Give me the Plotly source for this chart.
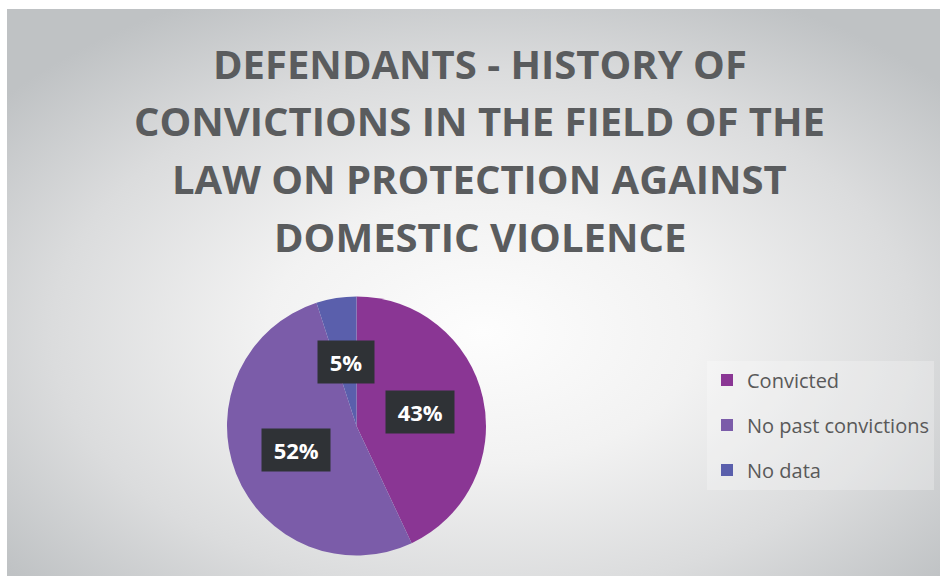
import base64
import math
import plotly.graph_objects as go

# ---- data ----
labels = ["Convicted", "No past convictions", "No data"]
values = [43, 52, 5]
colors = ["#8A3694", "#7B5CA9", "#5A5FAC"]
title_lines = [
    "DEFENDANTS - HISTORY OF",
    "CONVICTIONS IN THE FIELD OF THE",
    "LAW ON PROTECTION AGAINST",
    "DOMESTIC VIOLENCE",
]

# ---- layout constants (pixels) ----
W, H = 940, 576
panel_x0, panel_y0 = 7, 9
pie_cx, pie_cy, pie_r = 356.5, 426.0, 129.5
title_y = [63, 121, 179, 237]
label_frac = 0.5  # labels at half radius (centre of slice)

PW, PH = W - panel_x0, H - panel_y0
# background radial gradient as an SVG image
svg = (
    f'<svg xmlns="http://www.w3.org/2000/svg" width="{PW}" height="{PH}" viewBox="0 0 {PW} {PH}" preserveAspectRatio="none">'
    '<defs><radialGradient id="g" cx="0.51" cy="0.57" r="0.66">'
    '<stop offset="0" stop-color="#FDFDFD"/>'
    '<stop offset="0.35" stop-color="#F2F2F2"/>'
    '<stop offset="0.7" stop-color="#DBDCDD"/>'
    '<stop offset="1" stop-color="#BFC2C4"/>'
    '</radialGradient></defs>'
    f'<rect width="{PW}" height="{PH}" fill="url(#g)"/></svg>'
)
svg_uri = "data:image/svg+xml;base64," + base64.b64encode(svg.encode()).decode()

fig = go.Figure()
fig.add_trace(go.Pie(
    labels=labels,
    values=values,
    marker=dict(colors=colors, line=dict(width=0)),
    sort=False,
    direction="clockwise",
    rotation=0,
    textinfo="none",
    showlegend=False,
    domain=dict(
        x=[(pie_cx - pie_r) / W, (pie_cx + pie_r) / W],
        y=[1 - (pie_cy + pie_r) / H, 1 - (pie_cy - pie_r) / H],
    ),
))

# legend via dummy traces (to control spacing)
for lab, col in zip(labels, colors):
    fig.add_trace(go.Scatter(
        x=[None], y=[None], mode="markers", name=lab,
        marker=dict(symbol="square", size=12, color=col),
        legendgroup=lab, showlegend=True,
    ))

annotations = []
total = sum(values)
cum = 0
for v in values:
    mid = (cum + v / 2) / total
    theta = 2 * math.pi * mid
    px = pie_cx + label_frac * pie_r * math.sin(theta)
    py = pie_cy - label_frac * pie_r * math.cos(theta)
    pct = round(100 * v / total)
    annotations.append(dict(
        x=px / W, y=1 - py / H, xref="paper", yref="paper",
        text=f"\u00a0{pct}%\u00a0", showarrow=False,
        font=dict(family="Open Sans", size=22, color="white", weight="bold"),
        bgcolor="#2F3236", borderpad=6,
        xanchor="center", yanchor="middle",
    ))
    cum += v

for line, ty in zip(title_lines, title_y):
    annotations.append(dict(
        x=480 / W, y=1 - ty / H, xref="paper", yref="paper",
        text=line, showarrow=False,
        font=dict(family="Open Sans", size=40, color="#5A5C5E", weight="bold"),
        xanchor="center", yanchor="middle",
    ))

fig.update_layout(
    width=W, height=H,
    margin=dict(l=0, r=0, t=0, b=0),
    paper_bgcolor="white",
    plot_bgcolor="rgba(0,0,0,0)",
    xaxis=dict(visible=False),
    yaxis=dict(visible=False),
    images=[dict(
        source=svg_uri, xref="paper", yref="paper",
        x=panel_x0 / W, y=1 - panel_y0 / H, sizex=PW / W, sizey=PH / H,
        xanchor="left", yanchor="top", sizing="stretch", layer="below",
    )],
    annotations=annotations,
    legend=dict(
        x=707 / W, y=1 - 425 / H, xanchor="left", yanchor="middle",
        font=dict(family="Open Sans", size=20, color="#595959"),
        bgcolor="rgba(255,255,255,0.25)",
        tracegroupgap=16,
        itemclick=False,
    ),
    showlegend=True,
)

fig.write_html(
    "out.html",
    config={"displayModeBar": False},
    post_script="document.body.style.margin='0';document.body.style.overflow='hidden';",
)
